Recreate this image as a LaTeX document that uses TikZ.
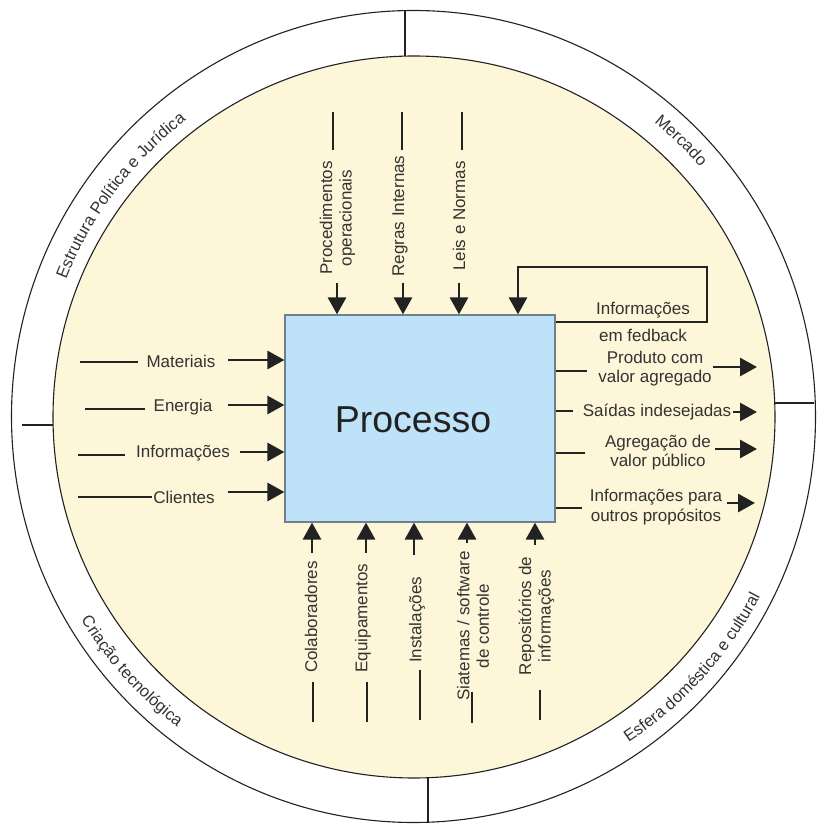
\documentclass[tikz,border=0pt]{standalone}
\usepackage{fontspec}
\setmainfont{Liberation Sans}
\usetikzlibrary{arrows.meta,decorations.text}

\definecolor{cream}{HTML}{FDF6D8}
\definecolor{boxblue}{HTML}{BEE3F8}
\definecolor{boxedge}{HTML}{6F808C}
\definecolor{ink}{HTML}{222222}
\definecolor{txt}{HTML}{333333}

\newcommand{\ringfont}{\fontsize{16.5}{19}\selectfont}

\begin{document}
\begin{tikzpicture}[x=1pt,y=1pt,
  lbl/.style={text=txt, font=\fontsize{17}{19.5}\selectfont, inner sep=0pt, align=center},
  conn/.style={draw=ink, line width=2.9pt},
  arr/.style={conn, -{Triangle[width=18pt,length=17pt]}},
  ringline/.style={draw=ink, line width=1.1pt},
  ringtext/.style={decorate, decoration={text along path, text align=center,
      text color=txt, text={|\ringfont|#1}}}
]
\useasboundingbox (0,0) rectangle (817,825);
\fill[white] (0,0) rectangle (817,825);

% outer ring and its four dividers
\draw[ringline] (413.5,408.5) ellipse [x radius=402, y radius=406];
\draw[ringline] (405,815) -- (405,766);
\draw[ringline] (22,400) -- (56,400);
\draw[ringline] (772,422) -- (814,422);
\draw[ringline] (428,50) -- (428,2.8);

% inner disc
\filldraw[fill=cream, ringline] (414,408) circle [radius=361];

% labels running along the ring
\path[ringtext={Estrutura Política e Jurídica}] (414,408) ++(183:374) arc[start angle=183, end angle=103, radius=374];
\path[ringtext={Mercado}] (414,408) ++(86:380) arc[start angle=86, end angle=6, radius=380];
\path[ringtext={Criação tecnológica}] (414,408) ++(182:390) arc[start angle=182, end angle=262, radius=390];
\path[ringtext={Esfera doméstica e cultural}] (414,408) ++(278:390) arc[start angle=278, end angle=358, radius=390];

% the process box
\node[draw=boxedge, fill=boxblue, line width=1.2pt, minimum width=270pt,
      minimum height=207pt, inner sep=0pt] (box) at (420,406.5) {};
\node[text=ink, font=\fontsize{37.5}{40}\selectfont, inner sep=0pt] (proc) at (413,405) {Processo};

% controls from above
\node[lbl, rotate=90] (t1) at (337.5,607) {Procedimentos\\operacionais};
\coordinate (t1a) at (333,713); \coordinate (t1b) at (333,675);
\draw[conn] (t1a) -- (t1b);
\coordinate (t1c) at (337,542);
\draw[arr] (t1c) -- (t1c |- box.north);

\node[lbl, rotate=90] (t2) at (400,609) {Regras Internas};
\coordinate (t2a) at (402,713); \coordinate (t2b) at (402,675);
\draw[conn] (t2a) -- (t2b);
\coordinate (t2c) at (403,542);
\draw[arr] (t2c) -- (t2c |- box.north);

\node[lbl, rotate=90] (t3) at (459,609) {Leis e Normas};
\coordinate (t3a) at (462,713); \coordinate (t3b) at (462,675);
\draw[conn] (t3a) -- (t3b);
\coordinate (t3c) at (459,542);
\draw[arr] (t3c) -- (t3c |- box.north);

% feedback loop
\coordinate (fbA) at (555,503);
\coordinate (fbB) at (707,503);
\coordinate (fbC) at (707,558);
\coordinate (fbD) at (518,558);
\draw[arr, line join=miter] (fbA -| box.east) -- (fbB) -- (fbC) -- (fbD) -- (fbD |- box.north);
\node[lbl] (fb1) at (643,515) {Informações};
\node[lbl] (fb2) at (643,490) {em fedback};

% inputs from the left
\node[lbl] (i1) at (181,464) {Materiais};
\coordinate (i1a) at (80,463); \coordinate (i1b) at (138,463); \coordinate (i1c) at (228,465);
\draw[conn] (i1a) -- (i1b);
\draw[arr] (i1c) -- (i1c -| box.west);

\node[lbl] (i2) at (183,418) {Energia};
\coordinate (i2a) at (85,416); \coordinate (i2b) at (145,416); \coordinate (i2c) at (228,420);
\draw[conn] (i2a) -- (i2b);
\draw[arr] (i2c) -- (i2c -| box.west);

\node[lbl] (i3) at (183,372) {Informações};
\coordinate (i3a) at (78,370); \coordinate (i3b) at (125,370); \coordinate (i3c) at (240,373);
\draw[conn] (i3a) -- (i3b);
\draw[arr] (i3c) -- (i3c -| box.west);

\node[lbl] (i4) at (184,328) {Clientes};
\coordinate (i4a) at (78,328); \coordinate (i4b) at (152,328); \coordinate (i4c) at (228,333);
\draw[conn] (i4a) -- (i4b);
\draw[arr] (i4c) -- (i4c -| box.west);

% outputs to the right
\node[lbl] (o1) at (655,456.5) {Produto com\\valor agregado};
\coordinate (o1a) at (587,454); \coordinate (o1b) at (713,458); \coordinate (o1c) at (757,458);
\draw[conn] (o1a -| box.east) -- (o1a);
\draw[arr] (o1b) -- (o1c);

\node[lbl] (o2) at (657,413) {Saídas indesejadas};
\coordinate (o2a) at (573,414); \coordinate (o2b) at (733,413); \coordinate (o2c) at (757,413);
\draw[conn] (o2a -| box.east) -- (o2a);
\draw[arr] (o2b) -- (o2c);

\node[lbl] (o3) at (658,372.5) {Agregação de\\valor público};
\coordinate (o3a) at (585,372); \coordinate (o3b) at (715,376); \coordinate (o3c) at (757,376);
\draw[conn] (o3a -| box.east) -- (o3a);
\draw[arr] (o3b) -- (o3c);

\node[lbl] (o4) at (656,318) {Informações para\\outros propósitos};
\coordinate (o4a) at (582,317); \coordinate (o4b) at (727,322); \coordinate (o4c) at (755,322);
\draw[conn] (o4a -| box.east) -- (o4a);
\draw[arr] (o4b) -- (o4c);

% resources from below
\node[lbl, rotate=90] (b1) at (311,208) {Colaboradores};
\coordinate (b1a) at (313,143); \coordinate (b1b) at (313,103); \coordinate (b1c) at (312,272);
\draw[conn] (b1a) -- (b1b);
\draw[arr] (b1c) -- (b1c |- box.south);

\node[lbl, rotate=90] (b2) at (363,207) {Equipamentos};
\coordinate (b2a) at (367,143); \coordinate (b2b) at (367,103); \coordinate (b2c) at (366,272);
\draw[conn] (b2a) -- (b2b);
\draw[arr] (b2c) -- (b2c |- box.south);

\node[lbl, rotate=90] (b3) at (417,205) {Instalações};
\coordinate (b3a) at (420,155); \coordinate (b3b) at (420,105); \coordinate (b3c) at (414,270);
\draw[conn] (b3a) -- (b3b);
\draw[arr] (b3c) -- (b3c |- box.south);

\node[lbl, rotate=90] (b4) at (473,199) {Siatemas / software\\de controle};
\coordinate (b4a) at (472,133); \coordinate (b4b) at (472,102); \coordinate (b4c) at (467,282);
\draw[conn] (b4a) -- (b4b);
\draw[arr] (b4c) -- (b4c |- box.south);

\node[lbl, rotate=90] (b5) at (536.5,209) {Repositórios de\\informações};
\coordinate (b5a) at (540,135); \coordinate (b5b) at (540,105); \coordinate (b5c) at (535,280);
\draw[conn] (b5a) -- (b5b);
\draw[arr] (b5c) -- (b5c |- box.south);
\end{tikzpicture}
\end{document}
